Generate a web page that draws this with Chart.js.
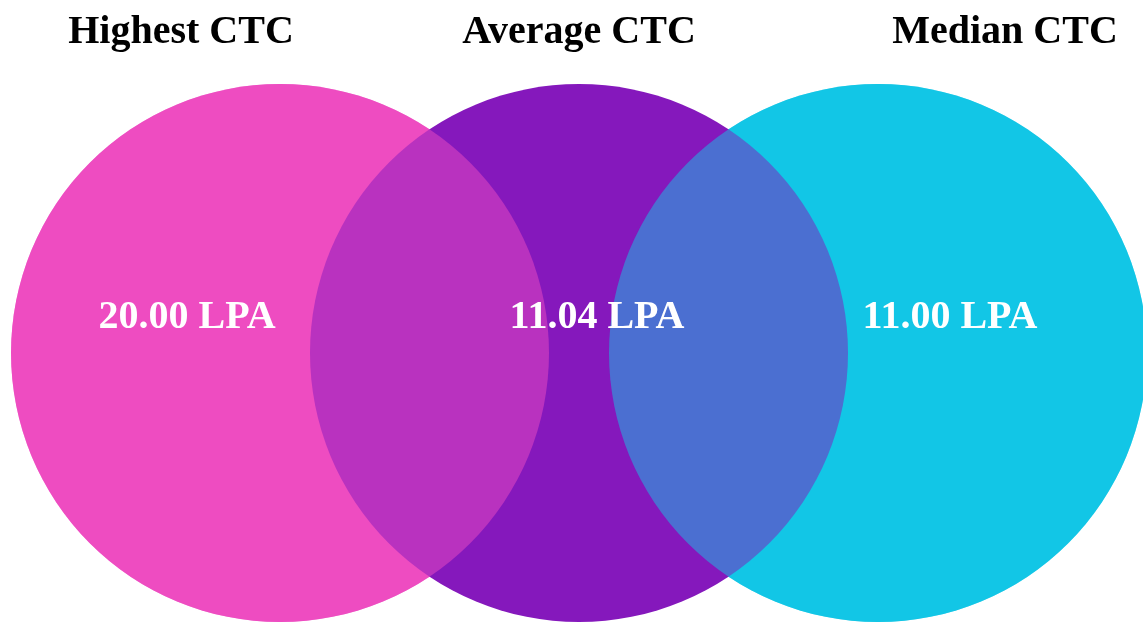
<!DOCTYPE html>
<html>
<head>
<meta charset="utf-8">
<script src="https://cdn.jsdelivr.net/npm/chart.js@4"></script>
<style>
  html, body { margin: 0; padding: 0; background: #fff; }
  canvas { display: block; }
</style>
</head>
<body>
<canvas id="ctcChart" width="1143" height="623"></canvas>
<script>
// data
const categories = ['Highest CTC', 'Average CTC', 'Median CTC'];
const ctcValues = [20.00, 11.04, 11.00];
const unitLabel = 'LPA';
const circleColors = ['#EE4CC1', '#8518BC', '#12C6E6'];

// each circle sits at its category index on a flat axis
const points = categories.map((_, i) => ({ x: i, y: 0 }));

// draw order: pink, cyan, purple opaque, then pink + cyan at half alpha on top
// so the overlaps come out as an even blend
const baseOrder = [0, 2, 1];
const blendIdx = [0, 2];

function hexAlpha(hex, a) {
  const n = parseInt(hex.slice(1), 16);
  return `rgba(${n >> 16}, ${(n >> 8) & 255}, ${n & 255}, ${a})`;
}

const labelPlugin = {
  id: 'ctcLabels',
  afterDatasetsDraw(chart) {
    const ctx = chart.ctx;
    const xs = chart.scales.x;
    const titleShift = [-99, 0, 127];
    const valueShift = [-93, 18, 72];
    ctx.save();
    ctx.font = 'bold 40px "Liberation Serif", "Times New Roman", serif';
    ctx.textAlign = 'center';
    ctx.textBaseline = 'alphabetic';
    categories.forEach((name, i) => {
      const cx = xs.getPixelForValue(i);
      ctx.fillStyle = '#000';
      ctx.fillText(name, cx + titleShift[i], 43);
      ctx.fillStyle = '#fff';
      ctx.fillText(ctcValues[i].toFixed(2) + ' ' + unitLabel, cx + valueShift[i], 328);
    });
    ctx.restore();
  }
};

new Chart(document.getElementById('ctcChart').getContext('2d'), {
  type: 'bubble',
  data: {
    datasets: [
      {
        // top layer (dataset 0 is drawn last)
        data: blendIdx.map(i => points[i]),
        backgroundColor: blendIdx.map(i => hexAlpha(circleColors[i], 0.5)),
        borderWidth: 0,
        radius: 269,
        clip: false
      },
      {
        data: baseOrder.map(i => points[i]),
        backgroundColor: baseOrder.map(i => circleColors[i]),
        borderWidth: 0,
        radius: 269,
        clip: false
      }
    ]
  },
  options: {
    responsive: false,
    animation: false,
    events: [],
    layout: { padding: 0, autoPadding: false },
    plugins: {
      legend: { display: false },
      tooltip: { enabled: false }
    },
    scales: {
      // ranges chosen so the circles land where the reference has them
      x: { type: 'linear', min: -0.9365, max: 2.8863, display: false },
      y: { type: 'linear', min: -1, max: 1.3074, display: false }
    }
  },
  plugins: [labelPlugin]
});
</script>
</body>
</html>
